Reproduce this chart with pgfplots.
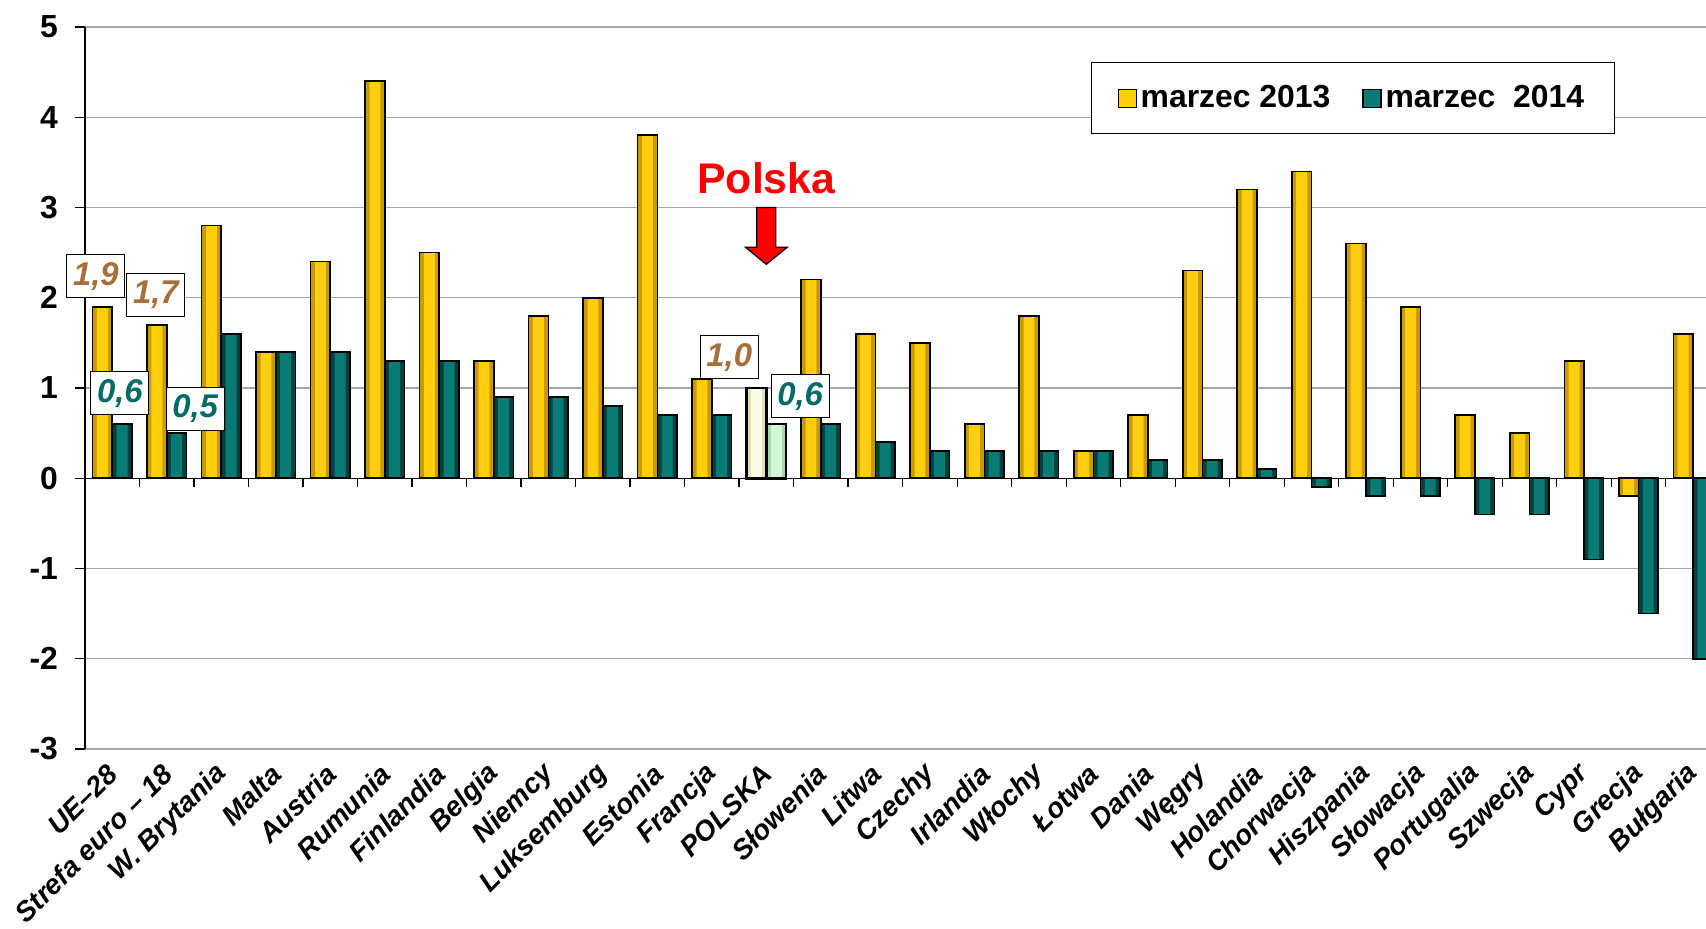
\documentclass[border=0pt]{standalone}
\usepackage{fontspec}
\setmainfont{Liberation Sans}
\usepackage{pgfplots}
\usepackage{pgfplotstable}
\pgfplotsset{compat=1.18}
\definecolor{goldbar}{HTML}{FFCE10}
\definecolor{goldedge}{HTML}{C99A00}
\definecolor{tealbar}{HTML}{0A7A74}
\definecolor{tealedge}{HTML}{00413E}
\definecolor{plcream}{HTML}{FBFAE2}
\definecolor{plcreamedge}{HTML}{E2DFB8}
\definecolor{plgreen}{HTML}{D2F6D8}
\definecolor{plgreenedge}{HTML}{A8D8B2}
\definecolor{lblbrown}{HTML}{A5703A}
\definecolor{lblteal}{HTML}{006B66}
\tikzset{lbl/.style={fill=white, draw=black, line width=0.5bp, inner sep=0pt,
  minimum width=29bp, minimum height=21.5bp,
  font=\bfseries\itshape\fontsize{16.5}{16.5}\selectfont}}
% marzec 2013 (POLSKA drawn separately)
\pgfplotstableread{
x y
0 1.9
1 1.7
2 2.8
3 1.4
4 2.4
5 4.4
6 2.5
7 1.3
8 1.8
9 2.0
10 3.8
11 1.1
13 2.2
14 1.6
15 1.5
16 0.6
17 1.8
18 0.3
19 0.7
20 2.3
21 3.2
22 3.4
23 2.6
24 1.9
25 0.7
26 0.5
27 1.3
28 -0.2
29 1.6
}\marA
% marzec 2014
\pgfplotstableread{
x y
0 0.6
1 0.5
2 1.6
3 1.4
4 1.4
5 1.3
6 1.3
7 0.9
8 0.9
9 0.8
10 0.7
11 0.7
13 0.6
14 0.4
15 0.3
16 0.3
17 0.3
18 0.3
19 0.2
20 0.2
21 0.1
22 -0.1
23 -0.2
24 -0.2
25 -0.4
26 -0.4
27 -0.9
28 -1.5
29 -2.0
}\marB
\begin{document}
\begin{tikzpicture}
\useasboundingbox (-42.5bp,-90bp) rectangle (810.5bp,374.5bp);
\begin{axis}[
  scale only axis, width=810.5bp, height=361bp,
  xmin=-0.5, xmax=29.24, ymin=-3, ymax=5,
  clip mode=individual,
  axis y line*=left, axis x line*=bottom,
  x axis line style={draw=none},
  y axis line style={line width=0.7bp},
  xtick={0,...,29},
  xticklabels={UE–28,Strefa euro – 18,W. Brytania,Malta,Austria,Rumunia,Finlandia,Belgia,Niemcy,Luksemburg,Estonia,Francja,POLSKA,Słowenia,Litwa,Czechy,Irlandia,Włochy,Łotwa,Dania,Węgry,Holandia,Chorwacja,Hiszpania,Słowacja,Portugalia,Szwecja,Cypr,Grecja,Bułgaria},
  xtick style={draw=none},
  xticklabel style={rotate=45, anchor=east, xshift=0bp, yshift=-4bp, font=\bfseries\itshape\fontsize{14}{14}\selectfont},
  ytick={-3,...,5},
  tick align=outside,
  ytick style={black, line width=0.7bp},
  major tick length=5bp,
  /pgf/number format/assume math mode=true,
  yticklabel style={xshift=-5bp, font=\bfseries\fontsize{16}{16}\selectfont},
  ymajorgrids, grid style={draw=gray!70, line width=0.7bp},
  legend style={at={(rel axis cs:0.6206,0.9515)}, anchor=north west, draw=black, line width=0.5bp,
    font=\bfseries\fontsize{16}{16}\selectfont, legend columns=2, inner xsep=13bp, inner ysep=9.5bp,
    /tikz/every even column/.append style={column sep=14bp}},
  legend cell align=left,
  every axis plot/.append style={ybar, bar width=0.36},
]
\draw[black, line width=0.7bp] (axis cs:-0.5,0) -- (axis cs:29.24,0);
\pgfplotsinvokeforeach{0.5,1.5,...,28.5}{\draw[black, line width=0.6bp] (axis cs:#1,0) -- ++(0pt,-4.5bp);}
% outer fills (legend entries)
\addplot[bar shift=-0.18, fill=goldedge, draw=none,
  legend image code/.code={\draw[fill=goldbar, draw=black, line width=0.6bp] (0bp,-4.5bp) rectangle (9bp,4.5bp);}]
  table[x=x,y=y] {\marA};
\addplot[bar shift=0.18, fill=tealedge, draw=none,
  legend image code/.code={\draw[fill=tealbar, draw=black, line width=0.6bp] (0bp,-4.5bp) rectangle (9bp,4.5bp);}]
  table[x=x,y=y] {\marB};
% lighter inner stripe
\addplot[bar shift=-0.18, bar width=0.2, fill=goldbar, draw=none, forget plot] table[x=x,y=y] {\marA};
\addplot[bar shift=0.18, bar width=0.2, fill=tealbar, draw=none, forget plot] table[x=x,y=y] {\marB};
% outlines
\addplot[bar shift=-0.18, fill=none, draw=black, line width=0.8bp, forget plot] table[x=x,y=y] {\marA};
\addplot[bar shift=0.18, fill=none, draw=black, line width=0.8bp, forget plot] table[x=x,y=y] {\marB};
% POLSKA
\addplot[bar shift=-0.18, fill=plcreamedge, draw=none, forget plot] coordinates {(12,1.0)};
\addplot[bar shift=0.18, fill=plgreenedge, draw=none, forget plot] coordinates {(12,0.6)};
\addplot[bar shift=-0.18, bar width=0.2, fill=plcream, draw=none, forget plot] coordinates {(12,1.0)};
\addplot[bar shift=0.18, bar width=0.2, fill=plgreen, draw=none, forget plot] coordinates {(12,0.6)};
\addplot[bar shift=-0.18, fill=none, draw=black, line width=1.3bp, forget plot] coordinates {(12,1.0)};
\addplot[bar shift=0.18, fill=none, draw=black, line width=1.3bp, forget plot] coordinates {(12,0.6)};
\legend{marzec 2013,marzec\ \ 2014}
\node[lbl, text=lblbrown] at (axis cs:-0.3,2.24) {1,9};
\node[lbl, text=lblbrown] at (axis cs:0.8,2.03) {1,7};
\node[lbl, text=lblteal] at (axis cs:0.14,0.94) {0,6};
\node[lbl, text=lblteal] at (axis cs:1.52,0.77) {0,5};
\node[lbl, text=lblbrown] at (axis cs:11.32,1.34) {1,0};
\node[lbl, text=lblteal] at (axis cs:12.62,0.91) {0,6};
\node[text=red, font=\bfseries\fontsize{21.5}{21.5}\selectfont] at (axis cs:12.0,3.33) {Polska};
\filldraw[fill=red, draw=black, line width=0.6bp]
  (axis cs:11.825,3.0) -- (axis cs:12.175,3.0) -- (axis cs:12.175,2.56) -- (axis cs:12.385,2.56)
  -- (axis cs:12.0,2.37) -- (axis cs:11.615,2.56) -- (axis cs:11.825,2.56) -- cycle;
\end{axis}
\end{tikzpicture}
\end{document}
